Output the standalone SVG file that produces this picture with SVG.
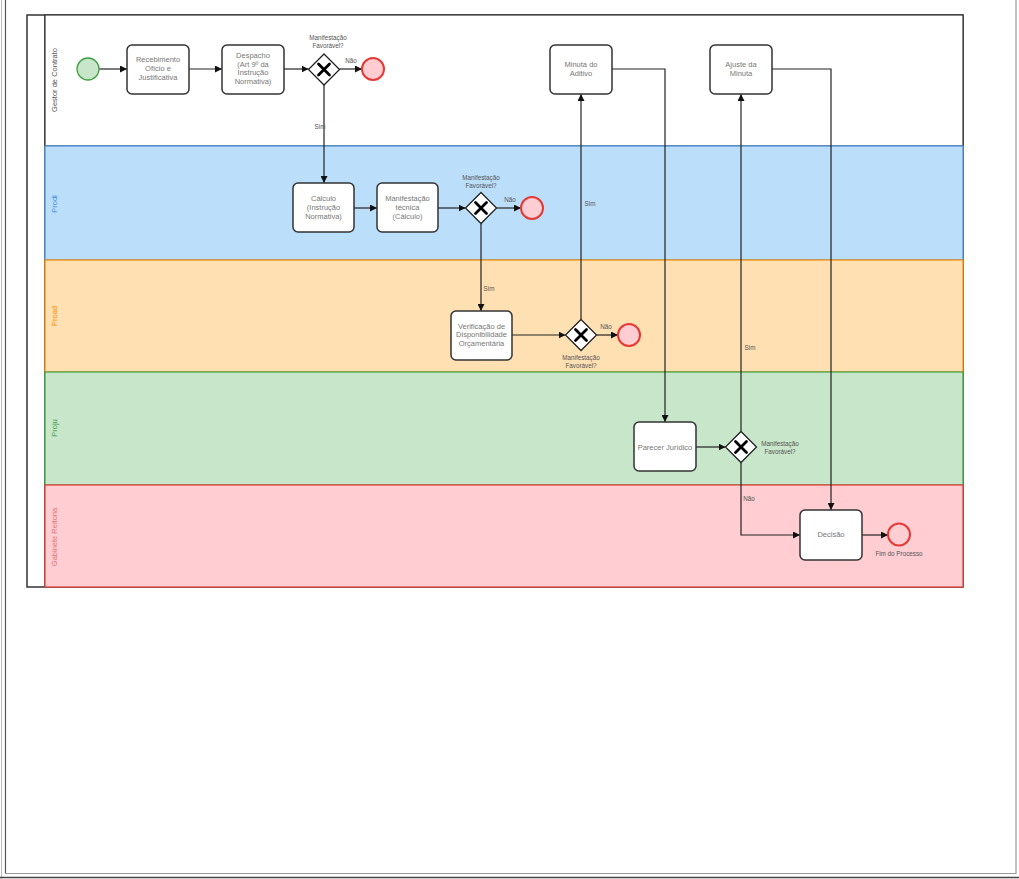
<svg xmlns="http://www.w3.org/2000/svg" width="1019" height="879" viewBox="0 0 1019 879">
<defs>
<marker id="arr" viewBox="0 0 10 10" refX="10" refY="5" markerWidth="7" markerHeight="7" markerUnits="userSpaceOnUse" orient="auto"><path d="M0,0 L10,5 L0,10 z" fill="#111"/></marker>
<style>
.task{fill:#fff;stroke:#333;stroke-width:1.5}
.tt{font-family:"Liberation Sans",Arial,sans-serif;font-size:7.5px;fill:#777;text-anchor:middle}
.lbl{font-family:"Liberation Sans",Arial,sans-serif;font-size:6.3px;fill:#555;text-anchor:middle}
.lane{font-family:"Liberation Sans",Arial,sans-serif;font-size:7.5px;text-anchor:middle}
.gw{fill:#fff;stroke:#222;stroke-width:1.3}
.gx{stroke:#000;stroke-width:2.8;fill:none;stroke-linecap:round}
.end{fill:#ffcdd2;stroke:#e53935;stroke-width:2}
.con{fill:none;stroke:#222;stroke-width:1.2;marker-end:url(#arr)}
</style>
</defs>
<rect width="1019" height="879" fill="#fff"/>
<g id="frame" fill="none">
<line x1="1.5" y1="0" x2="1.5" y2="879" stroke="#bbb"/>
<line x1="5.5" y1="0" x2="5.5" y2="874" stroke="#555" stroke-width="1.2"/>
<line x1="5" y1="873.5" x2="1016" y2="873.5" stroke="#999" stroke-width="1.2"/>
<line x1="1016" y1="0" x2="1016" y2="874" stroke="#999" stroke-width="1.2"/>
<line x1="0" y1="877.5" x2="1019" y2="877.5" stroke="#444" stroke-width="1.5"/>
</g>
<g id="pool">
<rect x="27" y="15" width="936" height="572" fill="#fff" stroke="#333" stroke-width="1.5"/>
<line x1="45" y1="15" x2="45" y2="587" stroke="#333" stroke-width="1.5"/>
</g>
<g id="lane-gestor">
<rect x="45" y="15" width="918" height="131" fill="#fff" stroke="#333" stroke-width="1.2"/>
<text class="lane" fill="#555" transform="translate(57,80) rotate(-90)">Gestor de Contrato</text>
</g>
<g id="lane-prodi">
<rect x="45" y="146" width="918" height="114" fill="#bbdefb" stroke="#4a90d9" stroke-width="1.2"/>
<text class="lane" fill="#4a90d9" transform="translate(57,204) rotate(-90)">Prodi</text>
</g>
<g id="lane-proad">
<rect x="45" y="260" width="918" height="112" fill="#ffe0b2" stroke="#fb8c00" stroke-width="1.2"/>
<text class="lane" fill="#fb8c00" transform="translate(57,316) rotate(-90)">Proad</text>
</g>
<g id="lane-proju">
<rect x="45" y="372" width="918" height="113" fill="#c8e6c9" stroke="#43a047" stroke-width="1.2"/>
<text class="lane" fill="#43a047" transform="translate(57,428) rotate(-90)">Proju</text>
</g>
<g id="lane-gabinete">
<rect x="45" y="485" width="918" height="102" fill="#ffcdd2" stroke="#e53935" stroke-width="1.2"/>
<text class="lane" fill="#e57373" transform="translate(57,537) rotate(-90)">Gabinete Reitoria</text>
</g>
<g id="connectors">
<path class="con" d="M99,69 L127,69"/>
<path class="con" d="M189,69 L222,69"/>
<path class="con" d="M284,69 L308.5,69"/>
<path class="con" d="M339.5,69 L362,69"/>
<path class="con" d="M324,85 L324,183"/>
<path class="con" d="M354,208 L377,208"/>
<path class="con" d="M438,208 L465.5,208"/>
<path class="con" d="M496.5,208 L521,208"/>
<path class="con" d="M481,223.5 L481,311"/>
<path class="con" d="M512,335 L565.5,335"/>
<path class="con" d="M596.5,335 L618,335"/>
<path class="con" d="M581,319.5 L581,94"/>
<path class="con" d="M612,69 L665,69 L665,422"/>
<path class="con" d="M772,69 L831,69 L831,510"/>
<path class="con" d="M696,447 L725.5,447"/>
<path class="con" d="M741,431.5 L741,94"/>
<path class="con" d="M741,462.5 L741,535 L800,535"/>
<path class="con" d="M862,535 L888,535"/>
<text class="lbl" x="351" y="63">Não</text>
<text class="lbl" x="320" y="129">Sim</text>
<text class="lbl" x="510" y="202">Não</text>
<text class="lbl" x="489" y="291">Sim</text>
<text class="lbl" x="606" y="329">Não</text>
<text class="lbl" x="590" y="206">Sim</text>
<text class="lbl" x="750" y="350">Sim</text>
<text class="lbl" x="749" y="501">Não</text>
</g>
<g id="start">
<circle cx="88" cy="69" r="11" fill="#c8e6c9" stroke="#43a047" stroke-width="1.3"/>
</g>
<g id="t-recebimento">
<rect class="task" x="127" y="45" width="62" height="49" rx="5"/>
<text class="tt" x="158" y="62">Recebimento</text>
<text class="tt" x="158" y="71">Ofício e</text>
<text class="tt" x="158" y="80">Justificativa</text>
</g>
<g id="t-despacho">
<rect class="task" x="222" y="45" width="62" height="49" rx="5"/>
<text class="tt" x="253" y="58">Despacho</text>
<text class="tt" x="253" y="66.5">(Art 9º da</text>
<text class="tt" x="253" y="75">Instrução</text>
<text class="tt" x="253" y="83.5">Normativa)</text>
</g>
<g id="gw1">
<path class="gw" d="M324,54 L339.5,69.5 L324,85 L308.5,69.5 z"/>
<path class="gx" d="M318.5,64 L329.5,75 M329.5,64 L318.5,75"/>
<text class="lbl" x="328" y="40">Manifestação</text>
<text class="lbl" x="328" y="47.5">Favorável?</text>
</g>
<g id="end1"><circle class="end" cx="373" cy="69" r="11"/></g>
<g id="t-calculo">
<rect class="task" x="293" y="183" width="61" height="49" rx="5"/>
<text class="tt" x="323.5" y="201">Cálculo</text>
<text class="tt" x="323.5" y="210">(Instrução</text>
<text class="tt" x="323.5" y="219">Normativa)</text>
</g>
<g id="t-manifestacao">
<rect class="task" x="377" y="183" width="61" height="49" rx="5"/>
<text class="tt" x="407.5" y="201">Manifestação</text>
<text class="tt" x="407.5" y="210">técnica</text>
<text class="tt" x="407.5" y="219">(Cálculo)</text>
</g>
<g id="gw2">
<path class="gw" d="M481,192.5 L496.5,208 L481,223.5 L465.5,208 z"/>
<path class="gx" d="M475.5,202.5 L486.5,213.5 M486.5,202.5 L475.5,213.5"/>
<text class="lbl" x="481" y="180">Manifestação</text>
<text class="lbl" x="481" y="187.5">Favorável?</text>
</g>
<g id="end2"><circle class="end" cx="532" cy="208" r="11"/></g>
<g id="t-verificacao">
<rect class="task" x="451" y="311" width="61" height="49" rx="5"/>
<text class="tt" x="481.5" y="328.5">Verificação de</text>
<text class="tt" x="481.5" y="337">Disponibilidade</text>
<text class="tt" x="481.5" y="345.5">Orçamentária</text>
</g>
<g id="gw3">
<path class="gw" d="M581,319.5 L596.5,335 L581,350.5 L565.5,335 z"/>
<path class="gx" d="M575.5,329.5 L586.5,340.5 M586.5,329.5 L575.5,340.5"/>
<text class="lbl" x="581" y="360">Manifestação</text>
<text class="lbl" x="581" y="368">Favorável?</text>
</g>
<g id="end3"><circle class="end" cx="629" cy="335" r="11"/></g>
<g id="t-minuta">
<rect class="task" x="550" y="45" width="62" height="49" rx="5"/>
<text class="tt" x="581" y="66.5">Minuta do</text>
<text class="tt" x="581" y="75.5">Aditivo</text>
</g>
<g id="t-ajuste">
<rect class="task" x="710" y="45" width="62" height="49" rx="5"/>
<text class="tt" x="741" y="66.5">Ajuste da</text>
<text class="tt" x="741" y="75.5">Minuta</text>
</g>
<g id="t-parecer">
<rect class="task" x="634" y="422" width="62" height="49" rx="5"/>
<text class="tt" x="665" y="449.5">Parecer Jurídico</text>
</g>
<g id="gw4">
<path class="gw" d="M741,431.5 L756.5,447 L741,462.5 L725.5,447 z"/>
<path class="gx" d="M735.5,441.5 L746.5,452.5 M746.5,441.5 L735.5,452.5"/>
<text class="lbl" x="780" y="445.5">Manifestação</text>
<text class="lbl" x="780" y="453.5">Favorável?</text>
</g>
<g id="t-decisao">
<rect class="task" x="800" y="510" width="62" height="50" rx="5"/>
<text class="tt" x="831" y="537">Decisão</text>
</g>
<g id="end-final">
<circle class="end" cx="899" cy="534.5" r="11"/>
<text class="lbl" x="899" y="556">Fim do Processo</text>
</g>
</svg>
